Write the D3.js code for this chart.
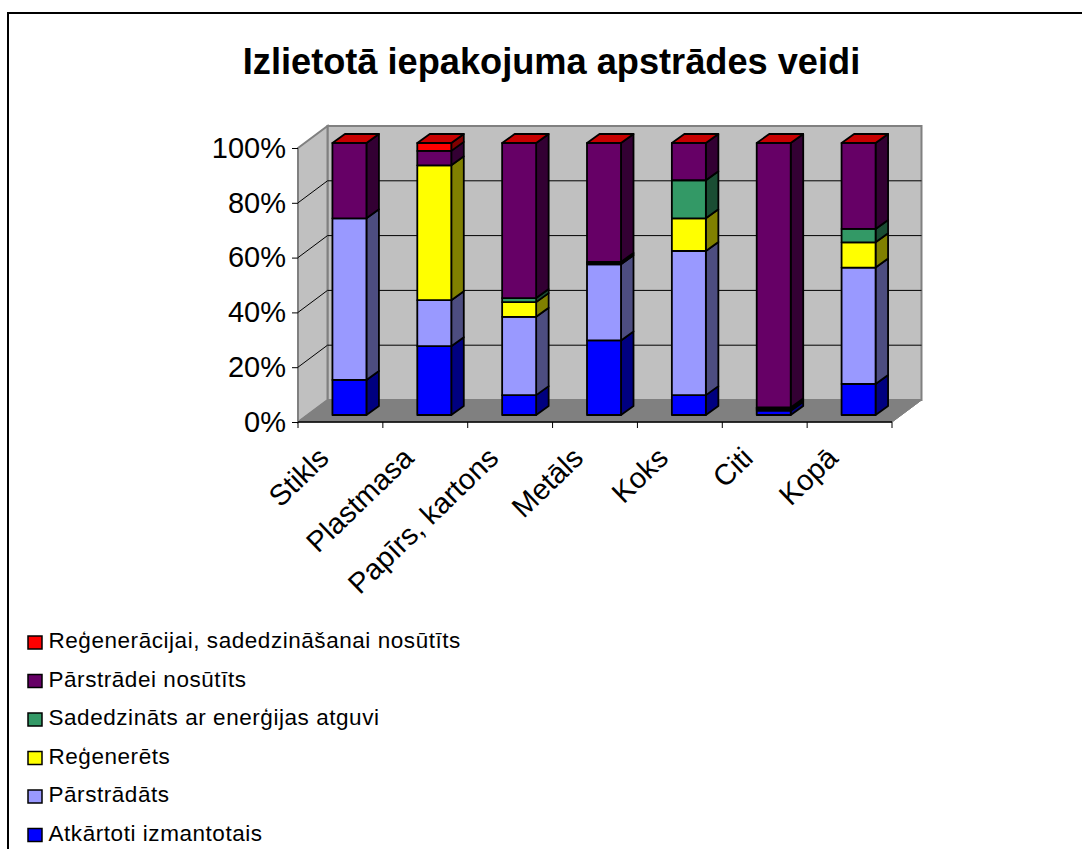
<!DOCTYPE html>
<html>
<head>
<meta charset="utf-8">
<script src="https://d3js.org/d3.v7.min.js"></script>
<style>
html, body { margin: 0; padding: 0; background: #fff; }
svg { display: block; font-family: "Liberation Sans", Arial, sans-serif; }
</style>
</head>
<body>
<div id="chart"></div>
<script>
let categories = ["Stikls", "Plastmasa", "Papīrs, kartons", "Metāls", "Koks", "Citi", "Kopā"];
let seriesNames = ["Atkārtoti izmantotais", "Pārstrādāts", "Reģenerēts", "Sadedzināts ar enerģijas atguvi", "Pārstrādei nosūtīts", "Reģenerācijai, sadedzināšanai nosūtīts"];
let reused = [12.9, 25.3, 7.3, 27.4, 7.3, 1.6, 11.4];
let recycled = [59.4, 16.9, 28.8, 28.0, 53.0, 0.4, 42.8];
let recovered = [0, 49.6, 5.4, 0.5, 12.0, 0.4, 9.3];
let incinerated = [0, 0, 1.5, 0.4, 14.0, 0.4, 4.9];
let sentRecycling = [27.7, 5.3, 57.0, 43.7, 13.7, 97.2, 31.6];
let sentRecovery = [0, 2.9, 0, 0, 0, 0, 0];
let yTicks = [0, 20, 40, 60, 80, 100];

let colors = ["#0000ff", "#9999ff", "#ffff00", "#339966", "#660066", "#ff0000"];
let sideColors = ["#000080", "#4d4d80", "#808000", "#1a4d33", "#330033", "#800000"];
let capColor = "#c80000";

let width = 1082, height = 849;
let plotLeft = 298, plotRight = 892, plotTop = 148, plotBottom = 422;
let wallDx = 29.5, wallDy = -22;
let barDx = 9, barBottom = 415, barTop = 143, sideDx = 12.5, sideDy = -9;
let barWidth = 34;

let svg = d3.select("#chart").append("svg")
    .attr("width", width)
    .attr("height", height)
    .attr("viewBox", [0, 0, width, height]);

// outer frame, runs off the right and bottom of the picture
svg.append("rect")
    .attr("x", 8).attr("y", 13)
    .attr("width", 1100).attr("height", 900)
    .attr("fill", "#fff").attr("stroke", "#000").attr("stroke-width", 2);

svg.append("text")
    .attr("x", 551.5).attr("y", 74)
    .attr("text-anchor", "middle")
    .attr("font-size", 36.2).attr("font-weight", "bold")
    .text("Izlietotā iepakojuma apstrādes veidi");

let x = d3.scaleBand().domain(categories).range([plotLeft, plotRight]);
let y = d3.scaleLinear().domain([0, 100]).range([plotBottom, plotTop]);
let yBar = d3.scaleLinear().domain([0, 100]).range([barBottom, barTop]);

let pts = a => a.map(p => p.join(",")).join(" ");

// walls
svg.append("polygon")
    .attr("points", pts([[plotLeft + wallDx, plotTop + wallDy], [plotRight + wallDx, plotTop + wallDy], [plotRight + wallDx, plotBottom + wallDy], [plotLeft + wallDx, plotBottom + wallDy]]))
    .attr("fill", "#c0c0c0").attr("stroke", "#808080").attr("stroke-width", 2);
svg.append("polygon")
    .attr("points", pts([[plotLeft, plotTop], [plotLeft + wallDx, plotTop + wallDy], [plotLeft + wallDx, plotBottom + wallDy], [plotLeft, plotBottom]]))
    .attr("fill", "#c0c0c0").attr("stroke", "#808080").attr("stroke-width", 2);
svg.append("polygon")
    .attr("points", pts([[plotLeft, plotBottom], [plotLeft + wallDx, plotBottom + wallDy], [plotRight + wallDx, plotBottom + wallDy], [plotRight, plotBottom]]))
    .attr("fill", "#808080").attr("stroke", "#808080");

// gridlines on the side and back wall
svg.append("g").selectAll("polyline")
    .data(yTicks.filter(d => d > 0 && d < 100))
    .join("polyline")
    .attr("fill", "none").attr("stroke", "#000").attr("stroke-width", 1)
    .attr("points", d => pts([[plotLeft, y(d)], [plotLeft + wallDx, y(d) + wallDy], [plotRight + wallDx, y(d) + wallDy]]));

// axes
svg.append("g")
    .attr("transform", `translate(${plotLeft},0)`)
    .call(d3.axisLeft(y).tickValues(yTicks).tickFormat(d => d + "%").tickSize(6).tickPadding(6))
    .call(g => g.attr("font-family", null).attr("font-size", 29))
    .call(g => g.selectAll("line").attr("stroke", "#000"))
    .call(g => g.select(".domain").remove());

svg.append("line")
    .attr("x1", plotLeft).attr("x2", plotRight).attr("y1", plotBottom).attr("y2", plotBottom)
    .attr("stroke", "#000").attr("stroke-width", 1.5);
svg.append("g").selectAll("line")
    .data(d3.range(categories.length + 1))
    .join("line")
    .attr("x1", i => plotLeft + i * x.bandwidth())
    .attr("x2", i => plotLeft + i * x.bandwidth())
    .attr("y1", plotBottom).attr("y2", plotBottom + 6)
    .attr("stroke", "#000");
svg.append("line")
    .attr("x1", plotRight).attr("x2", plotRight + wallDx).attr("y1", plotBottom).attr("y2", plotBottom + wallDy)
    .attr("stroke", "#808080").attr("stroke-width", 1);

svg.append("g").selectAll("text")
    .data(categories)
    .join("text")
    .attr("text-anchor", "end")
    .attr("font-size", 29)
    .attr("transform", d => `translate(${x(d) + x.bandwidth() / 2 - 10},${plotBottom + 38}) rotate(-44)`)
    .text(d => d);

// stacked bars
let rows = categories.map((c, i) => ({s0: reused[i], s1: recycled[i], s2: recovered[i], s3: incinerated[i], s4: sentRecycling[i], s5: sentRecovery[i]}));
let stack = d3.stack().keys(["s0", "s1", "s2", "s3", "s4", "s5"])(rows);

let barG = svg.append("g")
    .attr("stroke", "#000").attr("stroke-width", 1.8).attr("stroke-linejoin", "round");

categories.forEach((c, ci) => {
    let x0 = x(c) + (x.bandwidth() - barWidth) / 2 + barDx;
    let x1 = x0 + barWidth;
    let g = barG.append("g");
    stack.forEach((layer, si) => {
        let d = layer[ci];
        if (d[1] - d[0] <= 0) return;
        let yb = yBar(d[0]), yt = yBar(d[1]);
        g.append("polygon")
            .attr("points", pts([[x1, yb], [x1 + sideDx, yb + sideDy], [x1 + sideDx, yt + sideDy], [x1, yt]]))
            .attr("fill", sideColors[si]);
        g.append("rect")
            .attr("x", x0).attr("y", yt)
            .attr("width", barWidth).attr("height", yb - yt)
            .attr("fill", colors[si]);
    });
    // cap of every column keeps the red of the top series
    let yt = yBar(100);
    g.append("polygon")
        .attr("points", pts([[x0, yt], [x0 + sideDx, yt + sideDy], [x1 + sideDx, yt + sideDy], [x1, yt]]))
        .attr("fill", capColor);
});

// legend, top entry first
let legend = svg.append("g").selectAll("g")
    .data(d3.range(seriesNames.length).reverse())
    .join("g")
    .attr("transform", (d, i) => `translate(28,${636 + i * 38.5})`);
legend.append("rect")
    .attr("x", 0).attr("y", 0).attr("width", 14).attr("height", 13)
    .attr("fill", d => colors[d]).attr("stroke", "#000").attr("stroke-width", 1.5);
legend.append("text")
    .attr("x", 20.5).attr("y", 12)
    .attr("font-size", 22.5)
    .attr("letter-spacing", 0.55)
    .text(d => seriesNames[d]);
</script>
</body>
</html>
